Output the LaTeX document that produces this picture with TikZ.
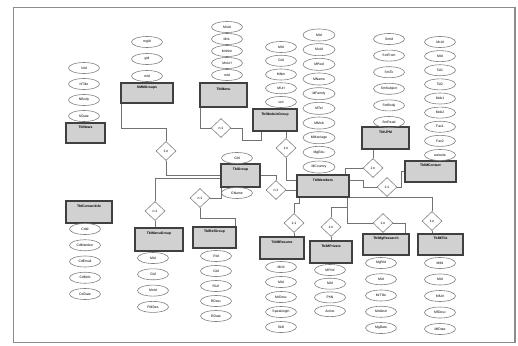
\documentclass[tikz,border=0pt]{standalone}
\usepackage{fontspec}
\setmainfont{Liberation Sans}
\usetikzlibrary{shapes.geometric}

\begin{document}
\begin{tikzpicture}[x=1pt,y=-1pt,
  ent/.style={draw=black!75,line width=1.2pt,fill=black!18,inner sep=0pt,minimum height=21pt,text height=2.8pt,text depth=12pt,font=\fontsize{3.4}{3.4}\selectfont\bfseries},
  att/.style={ellipse,draw=black!50,line width=0.6pt,inner sep=0pt,minimum width=31pt,minimum height=11pt,font=\fontsize{3.4}{3.4}\selectfont},
  rel/.style={diamond,draw=black!50,line width=0.6pt,inner sep=0pt,minimum width=20pt,minimum height=19pt,font=\fontsize{3.4}{3.4}\selectfont},
  link/.style={draw=black!55,line width=0.6pt}]
\useasboundingbox (0,0) rectangle (518,345);
\draw[black!45,line width=1.2pt] (13.5,7.5) rectangle (515,342.5);

\node[ent,minimum width=39pt,minimum height=20pt] (news) at (85.5,133) {TblNews};
\node[ent,minimum width=52pt,minimum height=20pt] (smm) at (147,93) {SMMGroups};
\node[ent,minimum width=47pt,minimum height=24pt] (menu) at (223.5,95) {TblMenu};
\node[ent,minimum width=44pt,minimum height=22pt] (modg) at (275,120) {TblModuleGroup};
\node[ent,minimum width=47pt,minimum height=22pt] (upm) at (385.5,138) {TblUPM};
\node[ent,minimum width=51pt,minimum height=21pt] (mcon) at (430.5,171.5) {TblMContact};
\node[ent,minimum width=39pt,minimum height=23pt] (grp) at (240.5,175.5) {TblGroup};
\node[ent,minimum width=52pt,minimum height=22pt] (mem) at (323,186) {TblMembers};
\node[ent,minimum width=46pt,minimum height=22pt] (cinfo) at (89,212) {TblContactInfo};
\node[ent,minimum width=48pt,minimum height=23pt] (mnug) at (159,239.5) {TblMenuGroup};
\node[ent,minimum width=43pt,minimum height=21pt] (refg) at (214.5,237.5) {TblRefGroup};
\node[ent,minimum width=44pt,minimum height=22pt] (mres) at (282,248) {TblMResume};
\node[ent,minimum width=42pt,minimum height=22pt] (mprv) at (331,252) {TblMPrivate};
\node[ent,minimum width=46pt,minimum height=21pt] (mgr) at (386,244.5) {TblMgResearch};
\node[ent,minimum width=45pt,minimum height=21pt] (mfile) at (440.5,244.5) {TblMFile};

\foreach \t [count=\i] in {NId,NTitle,NBody,NDate}
  \node[att] (news-\i) at (84,{68+16*(\i-1)}) {\t};
\foreach \t [count=\i] in {mgId,gId,mId}
  \node[att] (smm-\i) at (147,{42+17*(\i-1)}) {\t};
\foreach \t [count=\i] in {MnId,MnL,MnNm,MnUrl,mId}
  \node[att] (menu-\i) at (227,{27+12*(\i-1)}) {\t};
\foreach \t [count=\i] in {MId,GId,MNm,MUrl,ord}
  \node[att] (modg-\i) at (281,{47+13.75*(\i-1)}) {\t};
\foreach \t [count=\i] in {MId,MuId,MPwd,MName,MFamily,MTel,MMob,MMarriage,MgEdu,MCountry}
  \node[att,minimum width=32pt,minimum height=12pt] (mem-\i) at (319,{35+14.67*(\i-1)}) {\t};
\foreach \t [count=\i] in {SmId,SmFrom,SmTo,SmSubject,SmBody,SmRead}
  \node[att] (upm-\i) at (389,{39+16.6*(\i-1)}) {\t};
\foreach \t [count=\i] in {McId,MId,Tel1,Tel2,Mob1,Mob2,Fax1,Fax2,website}
  \node[att] (mcon-\i) at (440,{42+14.125*(\i-1)}) {\t};
\node[att] (grp-1) at (237,158) {GId};
\node[att] (grp-2) at (237,193) {GName};
\foreach \t [count=\i] in {CdId,CdMember,CdEmail,CdMob,CdDate}
  \node[att] (cinfo-\i) at (85,{229+16.25*(\i-1)}) {\t};
\foreach \t [count=\i] in {MId,GId,MnId,PMDes}
  \node[att] (mnug-\i) at (153,{258+16.3*(\i-1)}) {\t};
\foreach \t [count=\i] in {RId,GId,RUrl,RDesc,RDate}
  \node[att] (refg-\i) at (216,{256+15*(\i-1)}) {\t};
\foreach \t [count=\i] in {MrId,MId,MrDesc,SpeakingIn,Skill}
  \node[att] (mres-\i) at (281,{267+15*(\i-1)}) {\t};
\foreach \t [count=\i] in {MPrId,MId,PhN,Active}
  \node[att] (mprv-\i) at (330,{270+13.7*(\i-1)}) {\t};
\foreach \t [count=\i] in {MgRId,MId,MrTitle,MrAbstr,MgDate}
  \node[att] (mgr-\i) at (381,{263+16.25*(\i-1)}) {\t};
\foreach \t [count=\i] in {MfId,MId,MfUrl,MfDesc,MfDate}
  \node[att] (mfile-\i) at (440,{263+16.5*(\i-1)}) {\t};

\node[rel] (d1) at (166,151) {1:n};
\node[rel] (d2) at (221,128) {n:1};
\node[rel] (d3) at (286,148) {1:n};
\node[rel] (d4) at (276,190) {n:1};
\node[rel] (d5) at (373,168) {1:n};
\node[rel] (d6) at (387,187) {1:1};
\node[rel] (d7) at (155,211) {n:1};
\node[rel] (d8) at (200,198) {n:1};
\node[rel] (d9) at (294,223) {1:1};
\node[rel] (d10) at (331,227) {1:n};
\node[rel] (d11) at (383,223) {1:n};
\node[rel] (d12) at (432,221) {1:n};

\draw[link] ([xshift=1pt]smm.south west) -- ++(0,25) -| (d1.north);
\draw[link] (d1.south) |- (grp.west);
\draw[link] (d7.north) |- ([yshift=-3pt]grp.west);
\draw[link] (d7.south) -- (d7.south |- mnug.north);
\draw[link] (d8.east) -| ([xshift=0.5pt]grp.south west);
\draw[link] (d8.south) -- ++(0,10) -| ([xshift=-1pt]refg.north east);
\draw[link] ([xshift=1pt]menu.south west) |- (d2.west);
\draw[link] (d2.east) -- ++(11,0) -- ++(0,12) -| ([xshift=9pt]modg.south west);
\draw[link] (d3.north) -- (d3.north |- modg.south);
\draw[link] (d3.south) |- ([yshift=6pt]mem.west);
\draw[link] (grp.east) -| (d4.north);
\draw[link] (d4.east) -- (d4.east -| mem.west);
\draw[link] (d5.north) -- (d5.north |- upm.south);
\draw[link] (d5.west) -| ([xshift=-4pt]mem.north east);
\draw[link] ([yshift=6pt]mem.east) -- ++(14,0) |- (d6.west);
\draw[link] (d6.east) -- ++(4,0) |- (mcon.west);
\draw[link] (mem.south east) -| (d12.north);
\draw[link] (d12.south) -- (d12.south |- mfile.north);
\draw[link] ([xshift=-2pt]mem.south east) |- (d11.west);
\draw[link] (d11.east) -| ([xshift=-4pt]mgr.north east);
\draw[link] ([xshift=-2pt,yshift=-10pt]mem.south east) -| (d10.north);
\draw[link] (d10.south) -- (d10.south |- mprv.north);
\draw[link] ([xshift=3pt]mem.south west) -- ++(0,6) -| (d9.north);
\draw[link] (d9.south) -- (d9.south |- mres.north);
\end{tikzpicture}
\end{document}
